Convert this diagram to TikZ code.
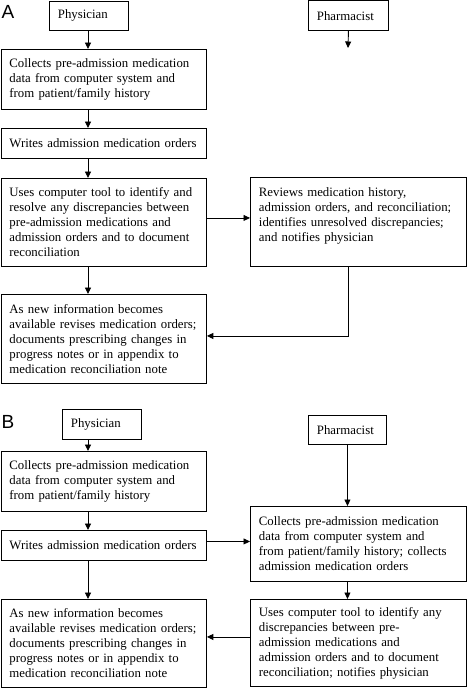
\documentclass[tikz,border=0pt]{standalone}
\usepackage{fontspec}
\setmainfont{Liberation Serif}
\newfontfamily\labfont{Liberation Sans}
\usetikzlibrary{arrows.meta}
\newcommand\Lline[1]{\mbox{#1}}
\tikzset{
  box/.style={draw, line width=0.9pt, anchor=north west, inner xsep=8.5pt, inner ysep=0pt,
    align=left, font=\fontsize{12.8}{15}\selectfont},
  arr/.style={line width=0.9pt, -{Triangle[length=6.5pt,width=6pt]}},
  panel/.style={font=\labfont\fontsize{19}{19}\selectfont, inner sep=0pt}
}
\begin{document}
\begin{tikzpicture}[x=1pt,y=-1pt]
\useasboundingbox (0,0) rectangle (466,688);
\coordinate (axL) at (88,0);
% ---------- A ----------
\node[panel] (labA) at (8,12) {A};
\node[box, text width=62pt, minimum height=29pt] (phyA) at (49,0.5) {Physician};
\node[box, text width=63pt, minimum height=29.5pt] (pharmA) at (308,0.5) {Pharmacist};
\coordinate (pharmAend) at (348,48);
\node[box, text width=188.5pt, minimum height=60pt] (colA) at (0.5,49)
  {\Lline{Collects pre-admission medication}\\\Lline{data from computer system and}\\\Lline{from patient/family history}};
\node[box, text width=188.5pt, minimum height=30pt] (wriA) at (0.5,128)
  {\Lline{Writes admission medication orders}};
\node[box, text width=188.5pt, minimum height=88pt] (useA) at (0.5,178)
  {\Lline{Uses computer tool to identify and}\\\Lline{resolve any discrepancies between}\\\Lline{pre-admission medications and}\\\Lline{admission orders and to document}\\\Lline{reconciliation}};
\node[box, text width=198.5pt, minimum height=89pt] (revA) at (250,177)
  {\Lline{Reviews medication history,}\\\Lline{admission orders, and reconciliation;}\\\Lline{identifies unresolved discrepancies;}\\\Lline{and notifies physician}\\\mbox{}};
\node[box, text width=188.5pt, minimum height=89pt] (newA) at (0.5,294)
  {\Lline{As new information becomes}\\\Lline{available revises medication orders;}\\\Lline{documents prescribing changes in}\\\Lline{progress notes or in appendix to}\\\Lline{medication reconciliation note}};
\draw[arr] (phyA.south -| axL) -- (colA.north -| axL);
\draw[arr] (pharmA.south) -- (pharmAend);
\draw[arr] (colA.south -| axL) -- (wriA.north -| axL);
\draw[arr] (wriA.south -| axL) -- (useA.north -| axL);
\draw[arr] (useA.south -| axL) -- (newA.north -| axL);
\draw[arr] ([yshift=4.5pt]useA.east) -- ([yshift=4.5pt]useA.east -| revA.west);
\draw[arr] (revA.south -| pharmA) |- ([yshift=3pt]newA.east);
% ---------- B ----------
\node[panel] (labB) at (8,422) {B};
\node[box, text width=62pt, minimum height=30pt] (phyB) at (62,409) {Physician};
\node[box, text width=61pt, minimum height=29pt] (pharmB) at (308,415) {Pharmacist};
\node[box, text width=188.5pt, minimum height=60pt] (colB) at (0.5,451)
  {\Lline{Collects pre-admission medication}\\\Lline{data from computer system and}\\\Lline{from patient/family history}};
\node[box, text width=188.5pt, minimum height=30pt] (wriB) at (0.5,530)
  {\Lline{Writes admission medication orders}};
\node[box, text width=198.5pt, minimum height=75pt] (colPB) at (250,506)
  {\Lline{Collects pre-admission medication}\\\Lline{data from computer system and}\\\Lline{from patient/family history; collects}\\\Lline{admission medication orders}};
\node[box, text width=188.5pt, minimum height=88pt] (newB) at (0.5,599)
  {\Lline{As new information becomes}\\\Lline{available revises medication orders;}\\\Lline{documents prescribing changes in}\\\Lline{progress notes or in appendix to}\\\Lline{medication reconciliation note}};
\node[box, text width=198.5pt, minimum height=87pt] (usePB) at (250,599)
  {\Lline{Uses computer tool to identify any}\\\Lline{discrepancies between pre-}\\\Lline{admission medications and}\\\Lline{admission orders and to document}\\\Lline{reconciliation; notifies physician}};
\draw[arr] (phyB.south -| axL) -- (colB.north -| axL);
\draw[arr] (pharmB.south) -- (pharmB.south |- colPB.north);
\draw[arr] (colB.south -| axL) -- (wriB.north -| axL);
\draw[arr] (wriB.south -| axL) -- (newB.north -| axL);
\draw[arr] ([yshift=4pt]wriB.east) -- ([yshift=4pt]wriB.east -| colPB.west);
\draw[arr] (colPB.south -| pharmB) -- (usePB.north -| pharmB);
\draw[arr] ([yshift=6pt]usePB.west) -- ([yshift=6pt]usePB.west -| newB.east);
\end{tikzpicture}
\end{document}
